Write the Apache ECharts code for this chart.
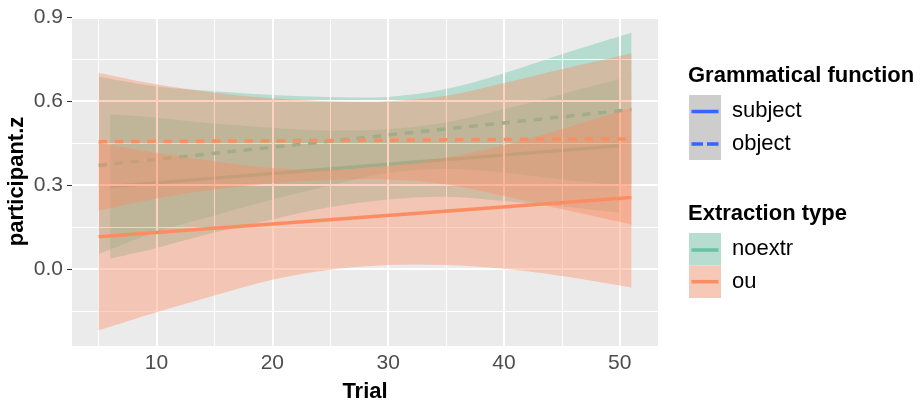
<!DOCTYPE html>
<html><head><meta charset="utf-8">
<script src="https://cdn.jsdelivr.net/npm/echarts@6/dist/echarts.min.js"></script>
<style>html,body{margin:0;padding:0;background:#fff}#c{width:923px;height:400px}</style>
</head><body><div id="c"></div>
<script>
// axis ticks
const trialTicks = [10, 20, 30, 40, 50];
const trialMinor = [5, 15, 25, 35, 45];
const zTicks = [0, 0.3, 0.6, 0.9];
const zMinor = [-0.15, 0.15, 0.45, 0.75];

// noextr / subject (solid)
const nsTrial = [6, 10, 15, 20, 25, 30, 35, 40, 45, 50];
const nsLower = [0.037, 0.075, 0.130, 0.177, 0.221, 0.248, 0.258, 0.243, 0.223, 0.201];
const nsUpper = [0.553, 0.541, 0.520, 0.505, 0.495, 0.500, 0.524, 0.571, 0.625, 0.679];
const nsLineTrial = [6, 50];
const nsLine = [0.295, 0.440];

// noextr / object (dashed)
const noTrial = [5, 10, 15, 20, 25, 30, 35, 40, 45, 51];
const noLower = [0.053, 0.132, 0.191, 0.248, 0.299, 0.343, 0.357, 0.344, 0.320, 0.295];
const noUpper = [0.687, 0.652, 0.635, 0.622, 0.615, 0.615, 0.643, 0.700, 0.768, 0.845];
const noLineTrial = [5, 51];
const noLine = [0.370, 0.570];

// ou / subject (solid)
const osTrial = [5, 10, 15, 20, 25, 30, 35, 40, 45, 51];
const osLower = [-0.220, -0.155, -0.095, -0.039, -0.003, 0.014, 0.014, 0.000, -0.026, -0.067];
const osUpper = [0.450, 0.415, 0.385, 0.361, 0.355, 0.368, 0.398, 0.442, 0.500, 0.577];
const osLineTrial = [5, 51];
const osLine = [0.115, 0.255];

// ou / object (dashed)
const ooTrial = [5, 10, 15, 20, 25, 30, 35, 40, 45, 51];
const ooLower = [0.208, 0.252, 0.284, 0.306, 0.318, 0.320, 0.303, 0.261, 0.214, 0.159];
const ooUpper = [0.702, 0.660, 0.630, 0.610, 0.600, 0.600, 0.619, 0.665, 0.714, 0.771];
const ooLineTrial = [5, 51];
const ooLine = [0.455, 0.465];

const GREEN = '#66C2A5', ORANGE = '#FC8D62';
const GREEN_A = 'rgba(102,194,165,0.4)', ORANGE_A = 'rgba(252,141,98,0.4)';
const FONT = '"Liberation Sans", Arial, Helvetica, sans-serif';

// smooth path (Catmull-Rom as cubic Bezier) through pixel points
function curveThrough(p, start) {
  let d = start ? ('M' + p[0][0] + ',' + p[0][1]) : ('L' + p[0][0] + ',' + p[0][1]);
  for (let i = 0; i < p.length - 1; i++) {
    const p0 = p[Math.max(i - 1, 0)], p1 = p[i], p2 = p[i + 1], p3 = p[Math.min(i + 2, p.length - 1)];
    const c1x = p1[0] + (p2[0] - p0[0]) / 6, c1y = p1[1] + (p2[1] - p0[1]) / 6;
    const c2x = p2[0] - (p3[0] - p1[0]) / 6, c2y = p2[1] - (p3[1] - p1[1]) / 6;
    d += 'C' + c1x + ',' + c1y + ',' + c2x + ',' + c2y + ',' + p2[0] + ',' + p2[1];
  }
  return d;
}
function ribbon(name, xs, lo, hi, fill, z) {
  return {
    type: 'custom', name: name, z: z, silent: true, animation: false,
    data: xs.map((x, i) => [x, lo[i], hi[i]]),
    encode: { x: 0, y: [1, 2] },
    renderItem: function (params, api) {
      if (params.dataIndex !== 0) return null;
      const up = xs.map((x, i) => api.coord([x, hi[i]]));
      const dn = xs.map((x, i) => api.coord([x, lo[i]])).reverse();
      const d = curveThrough(up, true) + curveThrough(dn, false) + 'Z';
      return { type: 'path', shape: { pathData: d }, style: { fill: fill, stroke: null } };
    }
  };
}
function fitLine(name, xs, ys, color, dashed, z) {
  return {
    type: 'line', name: name, z: z, silent: true, animation: false,
    data: xs.map((x, i) => [x, ys[i]]), symbol: 'none', emphasis: { disabled: true },
    lineStyle: { color: color, width: 3.5, type: dashed ? [8.5, 7.7] : 'solid', cap: 'butt' }
  };
}

const gridMarks = []
  .concat(trialMinor.map(v => ({ xAxis: v, lineStyle: { width: 1 } })))
  .concat(zMinor.map(v => ({ yAxis: v, lineStyle: { width: 1 } })))
  .concat(trialTicks.map(v => ({ xAxis: v, lineStyle: { width: 2 } })))
  .concat(zTicks.map(v => ({ yAxis: v, lineStyle: { width: 2 } })));

const chart = echarts.init(document.getElementById('c'), null, { renderer: 'canvas' });
chart.setOption({
  animation: false,
  backgroundColor: '#ffffff',
  textStyle: { fontFamily: FONT },
  grid: { left: 72, right: 265, top: 17, bottom: 54, show: true, backgroundColor: '#EBEBEB', borderWidth: 0,
    containLabel: false, outerBoundsMode: 'none' },
  xAxis: {
    type: 'value', min: 2.7, max: 53.3,
    axisLine: { show: false },
    splitLine: { show: false },
    axisTick: { show: true, length: 5, customValues: trialTicks, lineStyle: { color: '#333333', width: 1 } },
    axisLabel: { customValues: trialTicks, fontSize: 21, color: '#4D4D4D', margin: 7, fontFamily: FONT },
    name: 'Trial', nameLocation: 'middle', nameGap: 35, nameMoveOverlap: false,
    nameTextStyle: { fontSize: 22, fontWeight: 'bold', color: '#000', fontFamily: FONT }
  },
  yAxis: {
    type: 'value', min: -0.276, max: 0.901,
    axisLine: { show: false },
    splitLine: { show: false },
    axisTick: { show: true, length: 5, customValues: zTicks, lineStyle: { color: '#333333', width: 1 } },
    axisLabel: { customValues: zTicks, fontSize: 21, color: '#4D4D4D', margin: 9, fontFamily: FONT,
      formatter: v => Number(v).toFixed(1) },
    name: 'participant.z', nameLocation: 'middle', nameGap: 44, nameRotate: 90, nameMoveOverlap: false,
    nameTextStyle: { fontSize: 22, fontWeight: 'bold', color: '#000', fontFamily: FONT }
  },
  series: [
    { type: 'line', data: [], z: 1, silent: true, animation: false,
      markLine: { silent: true, animation: false, symbol: ['none', 'none'], label: { show: false },
        lineStyle: { color: '#FFFFFF', type: 'solid' }, emphasis: { disabled: true }, data: gridMarks } },
    ribbon('noextr subject band', nsTrial, nsLower, nsUpper, GREEN_A, 2),
    fitLine('noextr subject', nsLineTrial, nsLine, GREEN, false, 3),
    ribbon('noextr object band', noTrial, noLower, noUpper, GREEN_A, 4),
    fitLine('noextr object', noLineTrial, noLine, GREEN, true, 5),
    ribbon('ou subject band', osTrial, osLower, osUpper, ORANGE_A, 6),
    fitLine('ou subject', osLineTrial, osLine, ORANGE, false, 7),
    ribbon('ou object band', ooTrial, ooLower, ooUpper, ORANGE_A, 8),
    fitLine('ou object', ooLineTrial, ooLine, ORANGE, true, 9)
  ],
  graphic: [
    { type: 'text', x: 688, y: 75.5, style: { text: 'Grammatical function', font: 'bold 22px ' + FONT, fill: '#000', verticalAlign: 'middle' } },
    { type: 'rect', shape: { x: 689, y: 95, width: 32, height: 65 }, style: { fill: '#CDCDCD' } },
    { type: 'line', shape: { x1: 691.5, y1: 111.5, x2: 718.5, y2: 111.5 }, style: { stroke: '#3366FF', lineWidth: 3.5 } },
    { type: 'line', shape: { x1: 691.5, y1: 144, x2: 718.5, y2: 144 }, style: { stroke: '#3366FF', lineWidth: 3.5, lineDash: [11.5, 4] } },
    { type: 'text', x: 732, y: 110.5, style: { text: 'subject', font: '22px ' + FONT, fill: '#000', verticalAlign: 'middle' } },
    { type: 'text', x: 732, y: 144, style: { text: 'object', font: '22px ' + FONT, fill: '#000', verticalAlign: 'middle' } },
    { type: 'text', x: 688, y: 213.5, style: { text: 'Extraction type', font: 'bold 22px ' + FONT, fill: '#000', verticalAlign: 'middle' } },
    { type: 'rect', shape: { x: 689, y: 233, width: 32, height: 32.5 }, style: { fill: '#B6DDD0' } },
    { type: 'rect', shape: { x: 689, y: 265.5, width: 32, height: 32.5 }, style: { fill: '#F5C8B7' } },
    { type: 'line', shape: { x1: 691.5, y1: 250, x2: 718.5, y2: 250 }, style: { stroke: GREEN, lineWidth: 3.5 } },
    { type: 'line', shape: { x1: 691.5, y1: 281.7, x2: 718.5, y2: 281.7 }, style: { stroke: ORANGE, lineWidth: 3.5 } },
    { type: 'text', x: 732, y: 249, style: { text: 'noextr', font: '22px ' + FONT, fill: '#000', verticalAlign: 'middle' } },
    { type: 'text', x: 732, y: 281.5, style: { text: 'ou', font: '22px ' + FONT, fill: '#000', verticalAlign: 'middle' } }
  ]
});
</script>
</body></html>
